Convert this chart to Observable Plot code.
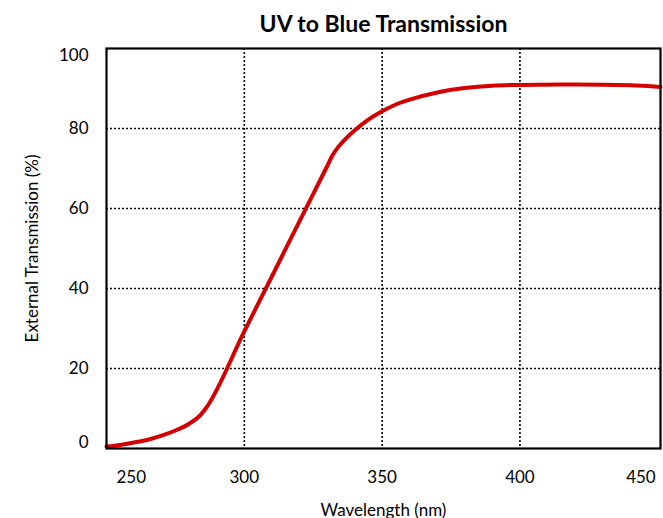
<!DOCTYPE html>
<html>
<head>
<meta charset="utf-8">
<script src="https://cdn.jsdelivr.net/npm/d3@7"></script>
<script src="https://cdn.jsdelivr.net/npm/@observablehq/plot@0.6"></script>
<style>
  html, body { margin: 0; padding: 0; background: #fff; }
  #chart svg { display: block; }
</style>
</head>
<body>
<div id="chart"></div>
<script>
const wavelengths = [250, 255, 260, 265, 270, 275, 280, 284, 286, 300, 310, 320, 330, 332, 334, 337, 340, 345, 350, 355, 360, 370, 380, 390, 400, 420, 440, 451];
const transmission = [0.5, 0.9, 1.5, 2.2, 3.2, 4.5, 6.2, 8.3, 10, 29.3, 43, 56.8, 70.5, 73.3, 75.3, 77.6, 79.5, 82.2, 84.3, 86, 87.2, 89, 90.1, 90.7, 90.9, 91, 90.8, 90.4];
const xTicks = [250, 300, 350, 400, 450];
const yTicks = [0, 20, 40, 60, 80, 100];
const xGrid = [300, 350, 400];
const yGrid = [20, 40, 60, 80];
const title = "UV to Blue Transmission";
const xLabel = "Wavelength (nm)";
const yLabel = "External Transmission (%)";

const data = wavelengths.map((w, i) => ({w, t: transmission[i]}));
const font = "Lato, 'Open Sans', sans-serif";

const chart = Plot.plot({
  width: 663,
  height: 518,
  marginLeft: 106,
  marginRight: 3,
  marginTop: 48,
  marginBottom: 70,
  style: {fontFamily: font, background: "#fff"},
  x: {domain: [250, 451], label: null},
  y: {domain: [0, 100], label: null},
  marks: [
    Plot.ruleX(xGrid, {stroke: "#000", strokeWidth: 1.6, strokeDasharray: "2,2"}),
    Plot.ruleY(yGrid, {stroke: "#000", strokeWidth: 1.6, strokeDasharray: "2,2"}),
    Plot.line(data, {x: "w", y: "t", stroke: "#d40000", strokeWidth: 4, curve: "monotone-x"}),
    Plot.frame({stroke: "#000", strokeWidth: 2.2}),
    // x tick labels
    Plot.axisX(xTicks.slice(1, -1), {tickSize: 0, tickPadding: 22, fontSize: 17, tickFormat: d => String(d)}),
    Plot.axisX([xTicks[0]], {tickSize: 0, tickPadding: 22, fontSize: 17, textAnchor: "start", dx: 10, tickFormat: d => String(d)}),
    Plot.axisX([xTicks[xTicks.length - 1]], {tickSize: 0, tickPadding: 22, fontSize: 17, textAnchor: "end", dx: -2, tickFormat: d => String(d)}),
    // y tick labels
    Plot.axisY(yTicks.slice(1, -1), {tickSize: 0, tickPadding: 18, fontSize: 17, tickFormat: d => String(d)}),
    Plot.axisY([yTicks[0]], {tickSize: 0, tickPadding: 18, fontSize: 17, dy: -6, tickFormat: d => String(d)}),
    Plot.axisY([yTicks[yTicks.length - 1]], {tickSize: 0, tickPadding: 18, fontSize: 17, dy: 7, tickFormat: d => String(d)}),
    // axis titles
    Plot.text([xLabel], {frameAnchor: "bottom", lineAnchor: "bottom", dy: 67, fontSize: 17, text: d => d}),
    Plot.text([yLabel], {frameAnchor: "left", textAnchor: "middle", lineAnchor: "middle", dx: -74, rotate: -90, fontSize: 17, text: d => d}),
    Plot.text([title], {frameAnchor: "top", lineAnchor: "middle", dy: -24, fontSize: 23, fontWeight: "bold", text: d => d})
  ]
});
document.getElementById("chart").appendChild(chart);
</script>
</body>
</html>
